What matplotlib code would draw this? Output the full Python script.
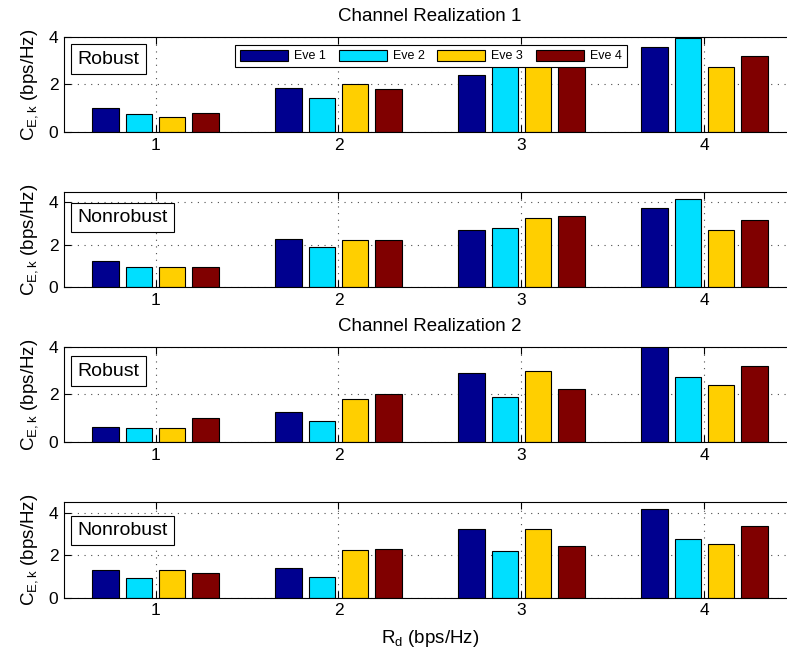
import numpy as np
import matplotlib
matplotlib.use('Agg')
import matplotlib.pyplot as plt

plt.rcParams['font.family'] = ['Liberation Sans', 'DejaVu Sans']
plt.rcParams['mathtext.fontset'] = 'custom'
plt.rcParams['mathtext.rm'] = 'Liberation Sans'
plt.rcParams['mathtext.it'] = 'Liberation Sans'

# data
rd = [1, 2, 3, 4]
eves = ['Eve 1', 'Eve 2', 'Eve 3', 'Eve 4']
colors = ['#00008F', '#00DFFF', '#FFCF00', '#800000']

# rows = Eve 1..4, columns = Rd 1..4
robust_cr1 = [[1.01, 1.84, 2.39, 3.57],
              [0.74, 1.43, 2.90, 3.96],
              [0.62, 2.01, 3.20, 2.71],
              [0.79, 1.81, 3.10, 3.19]]
nonrobust_cr1 = [[1.22, 2.26, 2.70, 3.73],
                 [0.93, 1.90, 2.81, 4.16],
                 [0.93, 2.21, 3.28, 2.67],
                 [0.96, 2.24, 3.34, 3.17]]
robust_cr2 = [[0.65, 1.25, 2.90, 4.10],
              [0.58, 0.89, 1.89, 2.71],
              [0.61, 1.79, 2.98, 2.39],
              [1.00, 2.01, 2.22, 3.17]]
nonrobust_cr2 = [[1.29, 1.42, 3.24, 4.17],
                 [0.95, 0.99, 2.18, 2.75],
                 [1.29, 2.23, 3.25, 2.54],
                 [1.15, 2.32, 2.46, 3.36]]

panels = [
    (robust_cr1, 'Robust', 4.0, 'Channel Realization 1', 0.765),
    (nonrobust_cr1, 'Nonrobust', 4.5, None, 0.73),
    (robust_cr2, 'Robust', 4.0, 'Channel Realization 2', 0.745),
    (nonrobust_cr2, 'Nonrobust', 4.5, None, 0.705),
]

W, H = 787, 653
fig = plt.figure(figsize=(W / 100, H / 100), dpi=100)

tops = [36.7, 191.7, 346.7, 502.3]
ax_h = 95.4
left, right = 64, 796

spacing = 4 / 5.5 / 4
width = 0.8 * spacing
x = np.array(rd, dtype=float)

for i, (vals, tag, ymax, title, tag_y) in enumerate(panels):
    ax = fig.add_axes([left / W, 1 - (tops[i] + ax_h) / H, (right - left) / W, ax_h / H])
    for k, (name, c) in enumerate(zip(eves, colors)):
        off = (k - 1.5) * spacing
        ax.bar(x + off, vals[k], width=width, color=c, edgecolor='black',
               linewidth=0.8, label=name)
    ax.set_xlim(0.5, 4.5)
    ax.set_ylim(0, ymax)
    ax.set_xticks(rd)
    ax.set_yticks([0, 2, 4])
    ax.set_axisbelow(True)
    ax.grid(True, color='0.3', linestyle=(0, (1, 5)), linewidth=0.8)
    ax.tick_params(direction='in', top=True, right=True, length=5,
                   width=0.8, labelsize=12.5, pad=4)
    for s in ax.spines.values():
        s.set_linewidth(0.8)
    ax.set_ylabel(r'C$_{\mathrm{E,k}}$ (bps/Hz)', fontsize=13.5)
    ax.yaxis.set_label_coords(-0.033, 0.5)
    ax.text(0.0185, tag_y, tag, transform=ax.transAxes, fontsize=14,
            ha='left', va='center',
            bbox=dict(boxstyle='square,pad=0.33', fc='white', ec='black', lw=0.8))
    if title:
        ax.set_title(title, fontsize=13.5, pad=11.5)
    if i == 0:
        leg = ax.legend(ncol=4, loc='upper left', bbox_to_anchor=(0.2336, 0.916),
                        borderaxespad=0, fontsize=9, handlelength=3.84,
                        handleheight=0.96, handletextpad=0.5, columnspacing=1.0,
                        borderpad=0.4, fancybox=False, framealpha=1,
                        edgecolor='black')
        leg.get_frame().set_linewidth(0.8)
        leg.set_zorder(10)

fig.text(430 / W, 1 - 643 / H, r'R$_{\mathrm{d}}$ (bps/Hz)', fontsize=13.5,
         ha='center', va='baseline')

fig.savefig('out.png', dpi=100)
